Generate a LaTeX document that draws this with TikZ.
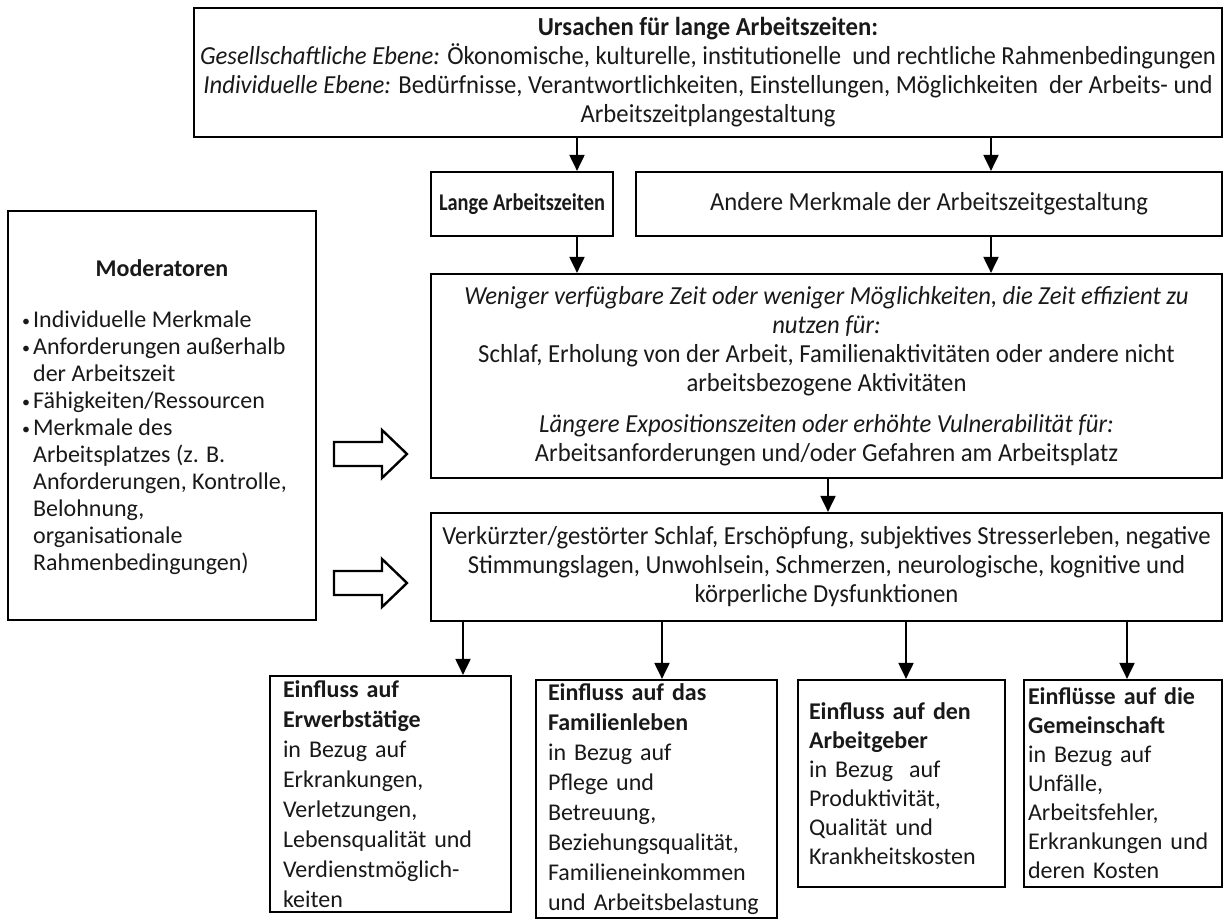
\documentclass[tikz,border=0pt]{standalone}
\usepackage{fontspec}
\setmainfont{Carlito}
\newfontfamily\condfont[FakeStretch=0.95]{Carlito}
\newfontfamily\langefont[FakeStretch=0.85]{Carlito}
\usetikzlibrary{arrows.meta,calc}
\begin{document}
\begin{tikzpicture}[x=1pt,y=-1pt,
  box/.style={draw=black,line width=2.2pt,inner sep=0pt,align=center,text=black!90},
  arr/.style={line width=2pt,-{Triangle[width=15pt,length=16pt]}},
  hollow/.style={draw=black,line width=2.4pt,fill=white,line join=miter},
  big/.style={font=\condfont\fontsize{26}{29}\selectfont},
  small/.style={font=\fontsize{24}{30}\selectfont},
  smaller/.style={font=\fontsize{24}{29}\selectfont}]
\useasboundingbox (0,0) rectangle (1227,919);
\fill[white] (0,0) rectangle (1227,919);
% top box
\node[box,big,minimum width=1028pt,minimum height=129pt] (top) at (708,72.5)
 {\textbf{Ursachen für lange Arbeitszeiten:}\\
  \textit{Gesellschaftliche Ebene:} Ökonomische, kulturelle, institutionelle\ \ und rechtliche Rahmenbedingungen\\
  \textit{Individuelle Ebene:} Bedürfnisse, Verantwortlichkeiten, Einstellungen, Möglichkeiten\ \ der Arbeits- und\\
  Arbeitszeitplangestaltung};
\node[box,font=\langefont\fontsize{24}{30}\selectfont\bfseries,minimum width=182pt,minimum height=64pt] (lange) at (522,204) {Lange Arbeitszeiten};
\node[box,big,minimum width=586pt,minimum height=64pt] (andere) at (929,204) {Andere Merkmale der Arbeitszeitgestaltung};
\node[box,big,minimum width=791pt,minimum height=204pt] (mid) at (826.5,376)
 {\textit{Weniger verfügbare Zeit oder weniger Möglichkeiten, die Zeit effizient zu}\\
  \textit{nutzen für:}\\
  Schlaf, Erholung von der Arbeit, Familienaktivitäten oder andere nicht\\
  arbeitsbezogene Aktivitäten\\[12pt]
  \textit{Längere Expositionszeiten oder erhöhte Vulnerabilität für:}\\
  Arbeitsanforderungen und/oder Gefahren am Arbeitsplatz};
\node[box,big,minimum width=791pt,minimum height=108pt] (verk) at (826.5,567)
 {Verkürzter/gestörter Schlaf, Erschöpfung, subjektives Stresserleben, negative\\
  Stimmungslagen, Unwohlsein, Schmerzen, neurologische, kognitive und\\
  körperliche Dysfunktionen};
% moderator
\node[box,minimum width=308pt,minimum height=409pt] (mod) at (162,415.5) {};
\node[font=\fontsize{24}{29}\selectfont\bfseries,text=black!90] (modt) at (162,268) {Moderatoren};
\node[anchor=north west,inner sep=0pt,font=\fontsize{24}{27}\selectfont,text=black!90,align=left] (modl) at (22,308)
 {\begin{tabular}{@{}l@{\hspace{3pt}}l@{}}
  {\fontsize{16}{16}\selectfont\raisebox{1pt}{•}} & Individuelle Merkmale\\
  {\fontsize{16}{16}\selectfont\raisebox{1pt}{•}} & Anforderungen außerhalb\\
  & der Arbeitszeit\\
  {\fontsize{16}{16}\selectfont\raisebox{1pt}{•}} & Fähigkeiten/Ressourcen\\
  {\fontsize{16}{16}\selectfont\raisebox{1pt}{•}} & Merkmale des\\
  & Arbeitsplatzes (z. B.\\
  & Anforderungen, Kontrolle,\\
  & Belohnung,\\
  & organisationale\\
  & Rahmenbedingungen)
  \end{tabular}};
% bottom boxes
\node[box,small,align=left,minimum width=241pt,minimum height=236pt,text width=215pt] (erw) at (390.5,794)
 {\textbf{Einfluss auf}\\ \textbf{Erwerbstätige}\\ in Bezug auf\\ Erkrankungen,\\ Verletzungen,\\ Lebensqualität und\\ Verdienstmöglich-\\ keiten};
\node[box,small,align=left,minimum width=241pt,minimum height=238pt,text width=217pt] (fam) at (656.5,799)
 {\textbf{Einfluss auf das}\\ \textbf{Familienleben}\\ in Bezug auf\\ Pflege und\\ Betreuung,\\ Beziehungsqualität,\\ Familieneinkommen\\ und Arbeitsbelastung};
\node[box,smaller,align=left,minimum width=207pt,minimum height=207pt,text width=185pt] (arb) at (901.5,783.5)
 {\textbf{Einfluss auf den}\\ \textbf{Arbeitgeber}\\ in Bezug~ auf\\ Produktivität,\\ Qualität und\\ Krankheitskosten};
\node[box,smaller,align=left,minimum width=198pt,minimum height=207pt,text width=190pt] (gem) at (1123,783.5)
 {\textbf{Einflüsse auf die}\\ \textbf{Gemeinschaft}\\ in Bezug auf\\ Unfälle,\\ Arbeitsfehler,\\ Erkrankungen und\\ deren Kosten};
% connectors
\coordinate (xa) at (577,0);
\coordinate (xb) at (991,0);
\coordinate (xc) at (828,0);
\coordinate (x1) at (463,0);
\coordinate (x2) at (662,0);
\coordinate (x3) at (906,0);
\coordinate (x4) at (1127,0);
\draw[arr] (top.south -| xa) -- (lange.north -| xa);
\draw[arr] (top.south -| xb) -- (andere.north -| xb);
\draw[arr] (lange.south -| xa) -- (mid.north -| xa);
\draw[arr] (andere.south -| xb) -- (mid.north -| xb);
\draw[arr] (mid.south -| xc) -- (verk.north -| xc);
\draw[arr] (verk.south -| x1) -- (erw.north -| x1);
\draw[arr] (verk.south -| x2) -- (fam.north -| x2);
\draw[arr] (verk.south -| x3) -- (arb.north -| x3);
\draw[arr] (verk.south -| x4) -- (gem.north -| x4);
% hollow arrows
\draw[hollow] (334,442) -- (382,442) -- (382,430) -- (407,454) -- (382,478) -- (382,466) -- (334,466) -- cycle;
\draw[hollow] (334,571) -- (382,571) -- (382,559) -- (407,583) -- (382,607) -- (382,595) -- (334,595) -- cycle;
\end{tikzpicture}
\end{document}
